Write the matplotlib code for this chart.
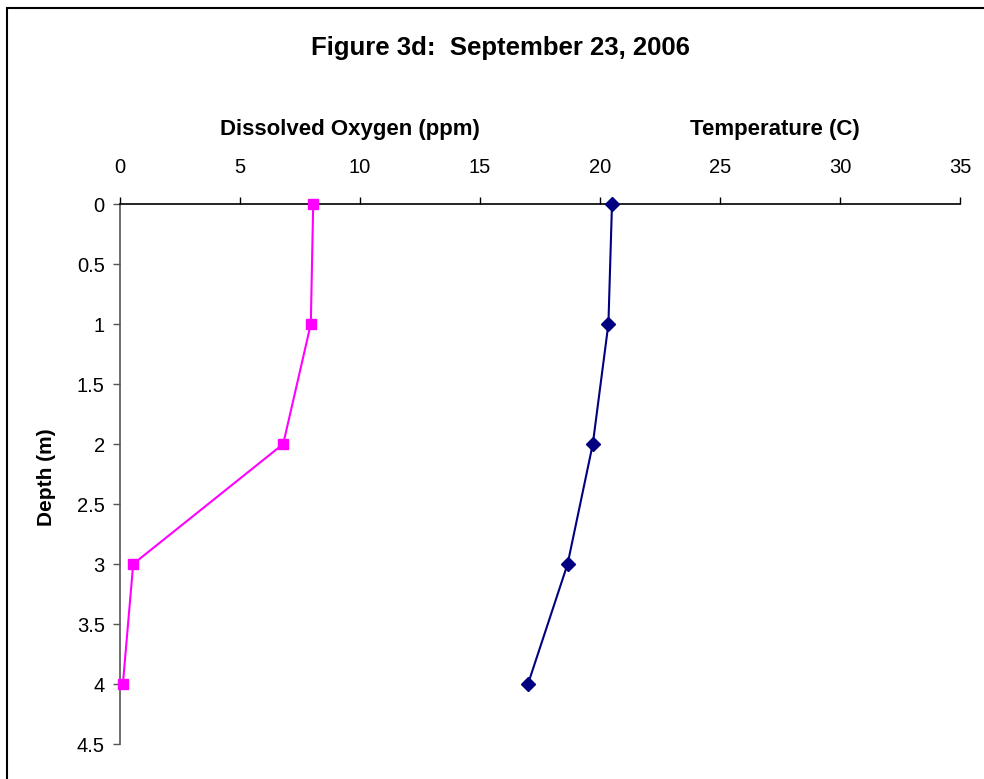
import matplotlib
matplotlib.use("Agg")
from matplotlib import pyplot as plt
from matplotlib.patches import Rectangle

plt.rcParams['font.family'] = ['Liberation Sans', 'DejaVu Sans']

# profile data
depth = [0, 1, 2, 3, 4]
oxygen = [8.05, 7.95, 6.8, 0.55, 0.12]
temperature = [20.5, 20.35, 19.7, 18.65, 17.0]

x_ticks = [0, 5, 10, 15, 20, 25, 30, 35]
y_ticks = [0, 0.5, 1, 1.5, 2, 2.5, 3, 3.5, 4, 4.5]
y_labels = ["0", "0.5", "1", "1.5", "2", "2.5", "3", "3.5", "4", "4.5"]

W, H = 984, 779
fig = plt.figure(figsize=(W / 100, H / 100), dpi=100)
ax = fig.add_axes([120 / W, 1 - 744 / H, 840 / W, 540 / H])

ax.plot(oxygen, depth, color="#FF00FF", lw=1.5, marker="s", ms=7.5, mec="#FF00FF",
        zorder=3, clip_on=False)
ax.plot(temperature, depth, color="#000080", lw=1.5, marker="D", ms=7.5, mec="#000080",
        zorder=3, clip_on=False)

ax.set_xlim(0, 35)
ax.set_ylim(4.5, 0)
ax.set_xticks(x_ticks)
ax.set_yticks(y_ticks)
ax.set_yticklabels(y_labels)
ax.xaxis.tick_top()
ax.tick_params(axis="x", direction="out", length=5, width=1, pad=14.5, labelsize=14.5)
ax.tick_params(axis="y", direction="out", length=5, width=1, pad=6, labelsize=14.5, color="#555555")
for s in ["right", "bottom"]:
    ax.spines[s].set_visible(False)
ax.spines["top"].set_linewidth(1.2)
ax.spines["left"].set_color("#555555")
ax.spines["left"].set_linewidth(1.2)
ax.patch.set_visible(False)

fig.text(500 / W, 1 - 48 / H, "Figure 3d:  September 23, 2006", ha="center", va="center",
         fontsize=18.5, fontweight="bold")
fig.text(350 / W, 1 - 130 / H, "Dissolved Oxygen (ppm)", ha="center", va="center",
         fontsize=16, fontweight="bold")
fig.text(775 / W, 1 - 130 / H, "Temperature (C)", ha="center", va="center",
         fontsize=16, fontweight="bold")
fig.text(47 / W, 1 - 477 / H, "Depth (m)", ha="center", va="center", rotation=90,
         fontsize=15, fontweight="bold")

# outer chart frame (right/bottom edges fall outside the image)
fig.patches.append(Rectangle((7 / W, -0.05), 1.2, 1 - 8 / H + 0.05, transform=fig.transFigure,
                             fill=False, edgecolor="black", linewidth=1.5))

fig.savefig("out.png", dpi=100)
